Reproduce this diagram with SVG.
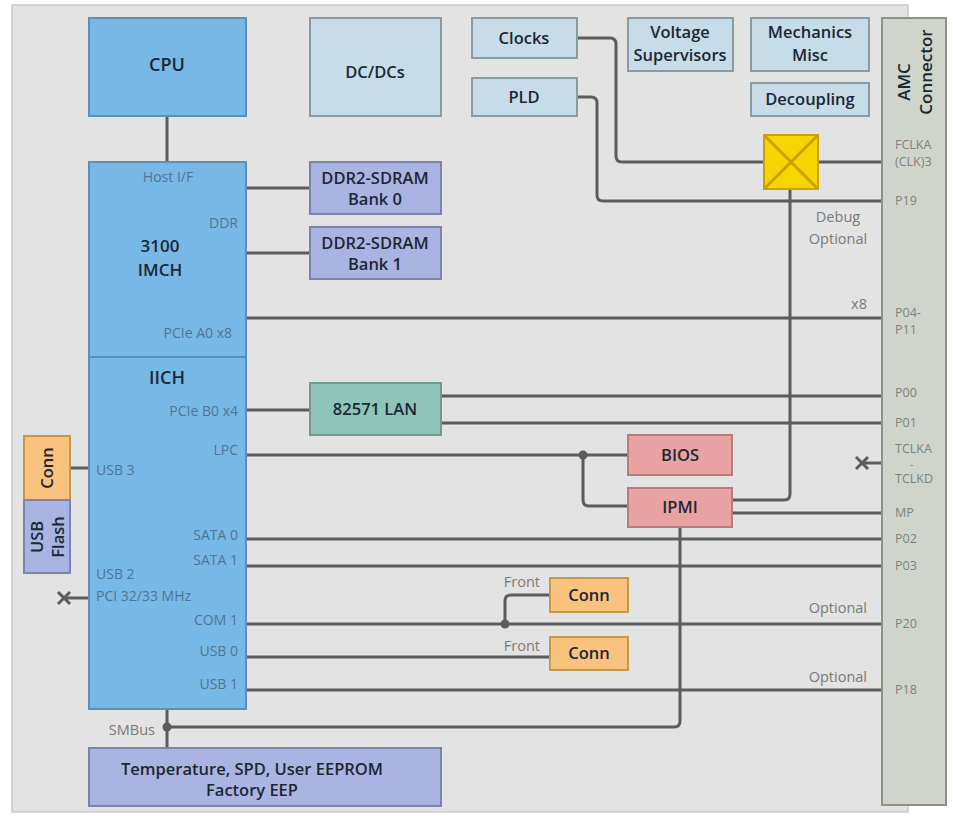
<svg xmlns="http://www.w3.org/2000/svg" width="953" height="816" viewBox="0 0 953 816">
<defs>
<style>
.bg{fill:#e3e3e3;stroke:#cacaca;stroke-width:1.5}
.blue{fill:#78b8e6;stroke:#5d8fb6;stroke-width:2}
.lt{fill:#c6dce9;stroke:#8b9ba3;stroke-width:2}
.mem{fill:#aab4e2;stroke:#7b84aa;stroke-width:2}
.lan{fill:#8fc4b9;stroke:#6b9b91;stroke-width:2}
.red{fill:#e8a2a2;stroke:#b97c7c;stroke-width:2}
.org{fill:#f9c27f;stroke:#c39a4a;stroke-width:2}
.amc{fill:#cfd5ca;stroke:#8c918a;stroke-width:2}
.w{fill:none;stroke:#5c5c5c;stroke-width:3;stroke-linecap:butt}
.dot{fill:#5c5c5c}
text{font-family:"Open Sans","Noto Sans",sans-serif}
.t{font-size:16.5px;font-weight:600;fill:#1d2733;text-anchor:middle}
.tb{font-size:18px;font-weight:600;fill:#1d2733;text-anchor:middle}
.tc{font-size:17px;font-weight:600;fill:#1d2733;text-anchor:middle}
.ta{font-size:17px;font-weight:600;fill:#1d2733;text-anchor:middle}
.p{font-size:14px;fill:#4f7594}
.pe{font-size:14px;fill:#4f7594;text-anchor:end}
.pm{font-size:14px;fill:#4f7594;text-anchor:middle}
.c{font-size:12.5px;fill:#7e8282}
.n{font-size:14.5px;fill:#7a7a7a;text-anchor:end}
.nm{font-size:14.5px;fill:#7a7a7a;text-anchor:middle}
</style>
</defs>
<rect x="12" y="5" width="896" height="807" class="bg"/>

<g id="connectors">
<path class="w" d="M167,116 V162"/>
<path class="w" d="M246,188 H310"/>
<path class="w" d="M246,253 H310"/>
<path class="w" d="M246,318 H882"/>
<path class="w" d="M246,410 H310"/>
<path class="w" d="M441,396 H882"/>
<path class="w" d="M441,423 H882"/>
<path class="w" d="M246,455 H628"/>
<path class="w" d="M583,455 V500 Q583,506 589,506 H628"/>
<circle class="dot" cx="583" cy="455" r="4.5"/>
<path class="w" d="M577,38 H610 Q616,38 616,44 V156 Q616,162 622,162 H764"/>
<path class="w" d="M818,162 H882"/>
<path class="w" d="M577,97 H591 Q597,97 597,103 V195 Q597,201 603,201 H882"/>
<path class="w" d="M732,500 H784 Q790,500 790,494 V189"/>
<path class="w" d="M732,513 H882"/>
<path class="w" d="M246,539 H882"/>
<path class="w" d="M246,566 H882"/>
<path class="w" d="M246,624 H882"/>
<path class="w" d="M505,624 V601 Q505,595 511,595 H550"/>
<circle class="dot" cx="505" cy="624" r="4.5"/>
<path class="w" d="M246,657 H550"/>
<path class="w" d="M246,690 H882"/>
<path class="w" d="M680,527 V721 Q680,727 674,727 H167"/>
<path class="w" d="M167,709 V748"/>
<circle class="dot" cx="167" cy="727" r="4.5"/>
<path class="w" d="M70,468 H89"/>
<path class="w" d="M89,598 H64"/>
<path class="w" d="M58,592 L70,604 M70,592 L58,604"/>
<path class="w" d="M882,463 H862"/>
<path class="w" d="M856,457 L868,469 M868,457 L856,469"/>
</g>

<g id="amc">
<rect x="882" y="18" width="64" height="787" class="amc"/>
<text class="ta" transform="translate(904,82) rotate(-90)" dy="6">AMC</text>
<text class="ta" transform="translate(926,72) rotate(-90)" dy="6">Connector</text>
<text class="c" x="895" y="149">FCLKA</text>
<text class="c" x="895" y="166">(CLK)3</text>
<text class="c" x="895" y="205">P19</text>
<text class="c" x="895" y="317">P04-</text>
<text class="c" x="895" y="334">P11</text>
<text class="c" x="895" y="397">P00</text>
<text class="c" x="895" y="427">P01</text>
<text class="c" x="895" y="453">TCLKA</text>
<text class="c" x="910" y="468" style="font-size:10px">-</text>
<text class="c" x="895" y="483">TCLKD</text>
<text class="c" x="895" y="517">MP</text>
<text class="c" x="895" y="543">P02</text>
<text class="c" x="895" y="570">P03</text>
<text class="c" x="895" y="628">P20</text>
<text class="c" x="895" y="694">P18</text>
</g>

<g id="cpu">
<rect x="89" y="18" width="157" height="98" class="blue"/>
<text class="tb" x="167" y="71">CPU</text>
</g>
<g id="dcdc">
<rect x="310" y="18" width="131" height="98" class="lt"/>
<text class="t" x="375" y="78">DC/DCs</text>
</g>
<g id="clocks">
<rect x="472" y="18" width="105" height="40" class="lt"/>
<text class="t" x="524" y="44">Clocks</text>
</g>
<g id="pld">
<rect x="472" y="78" width="105" height="38" class="lt"/>
<text class="t" x="524" y="103">PLD</text>
</g>
<g id="voltage">
<rect x="628" y="18" width="105" height="53" class="lt"/>
<text class="t" x="680" y="38">Voltage</text>
<text class="t" x="680" y="61">Supervisors</text>
</g>
<g id="mechanics">
<rect x="751" y="18" width="118" height="53" class="lt"/>
<text class="t" x="810" y="38">Mechanics</text>
<text class="t" x="810" y="61">Misc</text>
</g>
<g id="decoupling">
<rect x="751" y="83" width="118" height="33" class="lt"/>
<text class="t" x="810" y="105">Decoupling</text>
</g>
<g id="crosspoint">
<rect x="764" y="135" width="54" height="54" fill="#f6d500" stroke="#c9a400" stroke-width="2"/>
<path d="M765,136 L817,188 M817,136 L765,188" stroke="#c9a000" stroke-width="3"/>
</g>

<g id="imch">
<rect x="89" y="162" width="157" height="195" class="blue"/>
<text class="pm" x="168" y="182">Host I/F</text>
<text class="pe" x="238" y="228">DDR</text>
<text class="tc" x="160" y="252">3100</text>
<text class="tc" x="160" y="276">IMCH</text>
<text class="pe" x="232" y="338">PCIe A0 x8</text>
</g>
<g id="iich">
<rect x="89" y="357" width="157" height="352" class="blue"/>
<text class="tb" x="167" y="384">IICH</text>
<text class="pe" x="238" y="416">PCIe B0 x4</text>
<text class="pe" x="238" y="455">LPC</text>
<text class="p" x="96" y="475">USB 3</text>
<text class="pe" x="238" y="540">SATA 0</text>
<text class="pe" x="238" y="565">SATA 1</text>
<text class="p" x="96" y="579">USB 2</text>
<text class="p" x="96" y="601">PCI 32/33 MHz</text>
<text class="pe" x="238" y="625">COM 1</text>
<text class="pe" x="238" y="656">USB 0</text>
<text class="pe" x="238" y="689">USB 1</text>
</g>
<g id="ddr0">
<rect x="310" y="162" width="131" height="52" class="mem"/>
<text class="t" x="375" y="184">DDR2-SDRAM</text>
<text class="t" x="375" y="205">Bank 0</text>
</g>
<g id="ddr1">
<rect x="310" y="227" width="131" height="52" class="mem"/>
<text class="t" x="375" y="249">DDR2-SDRAM</text>
<text class="t" x="375" y="270">Bank 1</text>
</g>
<g id="lan">
<rect x="310" y="383" width="131" height="52" class="lan"/>
<text class="t" x="375" y="415">82571 LAN</text>
</g>
<g id="bios">
<rect x="628" y="435" width="104" height="40" class="red"/>
<text class="t" x="680" y="461">BIOS</text>
</g>
<g id="ipmi">
<rect x="628" y="488" width="104" height="39" class="red"/>
<text class="t" x="680" y="513">IPMI</text>
</g>
<g id="conn-com">
<rect x="550" y="578" width="78" height="34" class="org"/>
<text class="t" x="589" y="601">Conn</text>
</g>
<g id="conn-usb">
<rect x="550" y="637" width="78" height="33" class="org"/>
<text class="t" x="589" y="659">Conn</text>
</g>
<g id="conn-left">
<rect x="24" y="436" width="46" height="64" class="org"/>
<text class="t" transform="translate(47,468) rotate(-90)" dy="6">Conn</text>
</g>
<g id="usbflash">
<rect x="24" y="500" width="46" height="73" class="mem"/>
<text class="t" transform="translate(37,537) rotate(-90)" dy="6">USB</text>
<text class="t" transform="translate(58,537) rotate(-90)" dy="6">Flash</text>
</g>
<g id="eeprom">
<rect x="89" y="748" width="352" height="58" class="mem"/>
<text class="t" x="252" y="775">Temperature, SPD, User EEPROM</text>
<text class="t" x="252" y="796">Factory EEP</text>
</g>

<g id="notes">
<text class="n" x="867" y="309">x8</text>
<text class="nm" x="838" y="222">Debug</text>
<text class="nm" x="838" y="244">Optional</text>
<text class="n" x="540" y="587">Front</text>
<text class="n" x="540" y="651">Front</text>
<text class="n" x="867" y="613">Optional</text>
<text class="n" x="867" y="682">Optional</text>
<text class="n" x="155" y="735">SMBus</text>
</g>
</svg>
